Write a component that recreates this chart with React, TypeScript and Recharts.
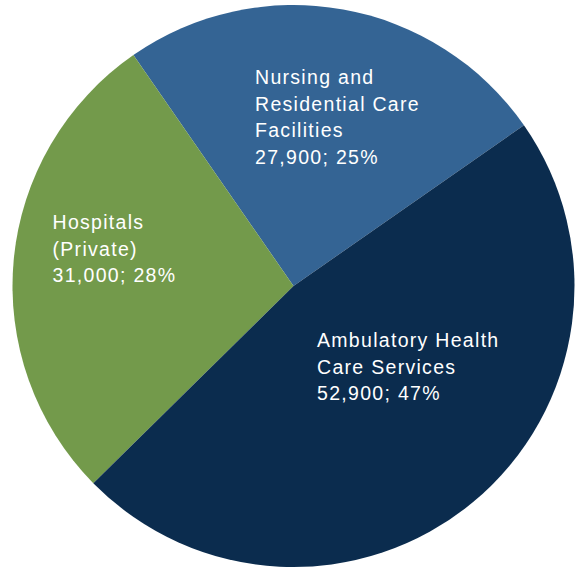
import React from "react";
import { PieChart, Pie, Cell } from "recharts";

const categories = ["Nursing and Residential Care Facilities", "Hospitals (Private)", "Ambulatory Health Care Services"];
const labelLines = [
  ["Nursing and", "Residential Care", "Facilities"],
  ["Hospitals", "(Private)"],
  ["Ambulatory Health", "Care Services"],
];
const values = [27900, 31000, 52900];
const percents = [25, 28, 47];
const colors = ["#346494", "#739a4b", "#0b2c4e"];

// label anchor offsets from pie centre (style, not data)
const labelOffsets = [
  { dx: -38.5, dy: -202 },
  { dx: -241, dy: -57 },
  { dx: 23.5, dy: 61 },
];

const data = categories.map((name, i) => ({ name, value: values[i], pct: percents[i], lines: labelLines[i] }));

const renderLabel = (props: any) => {
  const { cx, cy, index } = props;
  const d = data[index];
  const off = labelOffsets[index];
  const lines = [...d.lines, `${d.value.toLocaleString("en-US")}; ${d.pct}%`];
  return (
    <text
      x={cx + off.dx}
      y={cy + off.dy}
      fill="#ffffff"
      textAnchor="start"
      style={{ fontFamily: "'Liberation Sans', Arial, sans-serif", fontSize: 19.5, letterSpacing: 1.3 }}
    >
      {lines.map((l, i) => (
        <tspan key={i} x={cx + off.dx} dy={i === 0 ? 0 : 26.5}>
          {l}
        </tspan>
      ))}
    </text>
  );
};

export default function App() {
  return (
    <div style={{ position: "absolute", left: 0, top: 0, width: 576, height: 569, background: "#ffffff" }}>
      <PieChart width={576} height={569} margin={{ top: 0, right: 0, bottom: 0, left: 0 }}>
        <Pie
          data={data}
          dataKey="value"
          nameKey="name"
          cx={293.5}
          cy={286}
          outerRadius={281}
          innerRadius={0}
          startAngle={34.9}
          endAngle={394.9}
          stroke="none"
          label={renderLabel}
          labelLine={false}
          isAnimationActive={false}
        >
          {data.map((d, i) => (
            <Cell key={d.name} fill={colors[i]} />
          ))}
        </Pie>
      </PieChart>
    </div>
  );
}
